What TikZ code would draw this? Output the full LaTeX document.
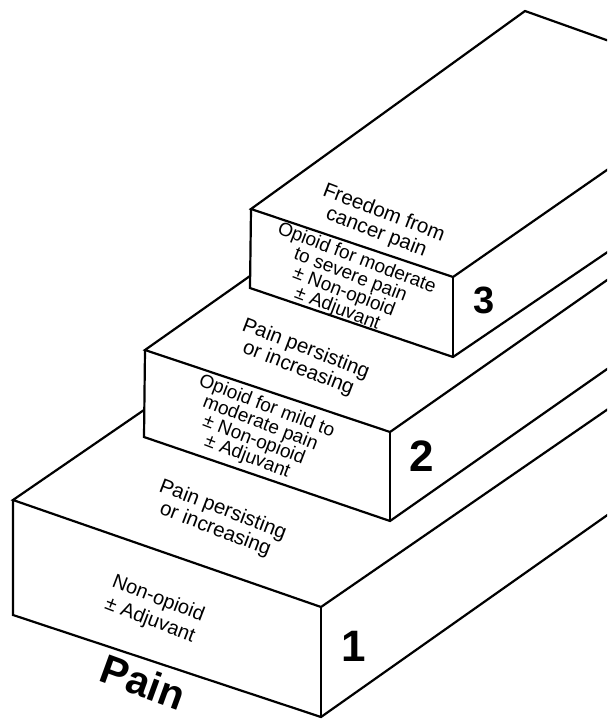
\documentclass[tikz,border=0pt]{standalone}
\usepackage{fontspec}
\setmainfont{Liberation Sans}
\begin{document}
\begin{tikzpicture}[x=1pt,y=-1pt,line width=2.2pt,
    toptext/.style={align=center,rotate=-21,font=\fontsize{20.5}{21}\selectfont},
    facetext/.style={align=center,rotate=-21,font=\fontsize{19}{18}\selectfont},
    stepnum/.style={font=\bfseries\fontsize{44}{44}\selectfont}]
  \useasboundingbox (0,0) rectangle (607,719);
  \coordinate (a1) at (13,500);
  \coordinate (b1) at (321,607);
  \coordinate (c1) at (321,717);
  \coordinate (d1) at (13,615);
  \coordinate (a2) at (145,350);
  \coordinate (b2) at (390,432);
  \coordinate (c2) at (390,521);
  \coordinate (d2) at (144,437);
  \coordinate (a3) at (251,209);
  \coordinate (b3) at (453,277);
  \coordinate (c3) at (453,357);
  \coordinate (d3) at (250,288);
  \coordinate (e3) at (525,11);
  \begin{scope}
    \clip (0,0) rectangle (607,719);
    \draw (144,410) -- (a1) -- (b1) -- (640,387);
    \draw (a1) -- (d1) -- (c1) -- (640,492);
    \draw (b1) -- (c1);
    \draw (250,276) -- (a2) -- (b2) -- (640,257);
    \draw (a2) -- (d2) -- (c2) -- (640,346);
    \draw (b2) -- (c2);
    \draw (640,52) -- (e3) -- (a3) -- (b3) -- (640,147);
    \draw (a3) -- (d3) -- (c3) -- (640,230);
    \draw (b3) -- (c3);
  \end{scope}
  \node[toptext] (top3) at (380,223) {Freedom from\\cancer pain};
  \node[facetext] (face3) at (347,284) {Opioid for moderate\\to severe pain\\± Non-opioid\\± Adjuvant};
  \node[toptext] (top2) at (302,359) {Pain persisting\\or increasing};
  \node[facetext] (face2) at (257,432) {Opioid for mild to\\moderate pain\\± Non-opioid\\± Adjuvant};
  \node[toptext] (top1) at (219,520) {Pain persisting\\or increasing};
  \node[facetext,font=\fontsize{20}{23}\selectfont] (face1) at (154,610) {Non-opioid\\± Adjuvant};
  \node[stepnum,font=\bfseries\fontsize{38}{38}\selectfont] (num3) at (484,300) {3};
  \node[stepnum] (num2) at (422,456) {2};
  \node[stepnum] (num1) at (354,646) {1};
  \node[rotate=-20,font=\bfseries\fontsize{41}{41}\selectfont] (pain) at (143,682) {Pain};
\end{tikzpicture}
\end{document}
